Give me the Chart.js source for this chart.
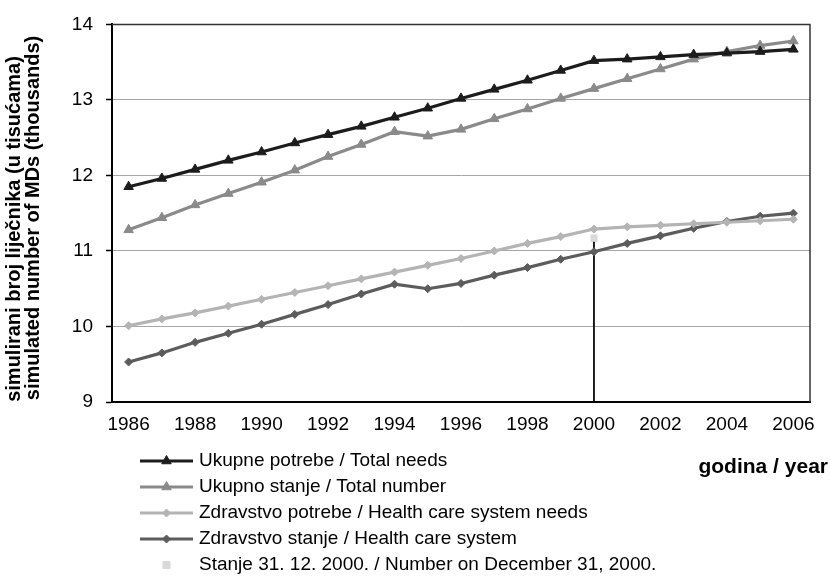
<!DOCTYPE html>
<html>
<head>
<meta charset="utf-8">
<script src="https://cdn.jsdelivr.net/npm/chart.js@4"></script>
<style>
  html, body { margin: 0; padding: 0; background: #fff; }
  #wrap { width: 830px; height: 576px; }
</style>
</head>
<body>
<div id="wrap"><canvas id="grafikon"></canvas></div>
<script>
// godine
const years = ['1986', '1987', '1988', '1989', '1990', '1991', '1992', '1993', '1994', '1995', '1996',
  '1997', '1998', '1999', '2000', '2001', '2002', '2003', '2004', '2005', '2006'];

// simulirani broj lijecnika (tisuce)
const totalNeeds = [11.85, 11.96, 12.08, 12.20, 12.31, 12.43, 12.54, 12.65, 12.77, 12.89, 13.02,
  13.14, 13.26, 13.39, 13.52, 13.54, 13.57, 13.60, 13.62, 13.64, 13.67];
const totalNumber = [11.28, 11.44, 11.61, 11.76, 11.91, 12.07, 12.25, 12.41, 12.58, 12.52, 12.61,
  12.75, 12.88, 13.02, 13.15, 13.28, 13.41, 13.54, 13.64, 13.72, 13.78];
const healthNeeds = [10.01, 10.10, 10.18, 10.27, 10.36, 10.45, 10.54, 10.63, 10.72, 10.81, 10.90,
  11.00, 11.10, 11.19, 11.29, 11.32, 11.34, 11.36, 11.38, 11.40, 11.42];
const healthSystem = [9.53, 9.65, 9.79, 9.91, 10.03, 10.16, 10.29, 10.43, 10.56, 10.50, 10.57,
  10.68, 10.78, 10.89, 10.99, 11.10, 11.20, 11.30, 11.39, 11.46, 11.50];

// stanje 31. 12. 2000.
const stanjeYear = '2000';
const stanjeValue = 11.17;

const yTicks = [9, 10, 11, 12, 13, 14];

const labels = [
  'Ukupne potrebe / Total needs',
  'Ukupno stanje / Total number',
  'Zdravstvo potrebe / Health care system needs',
  'Zdravstvo stanje / Health care system',
  'Stanje 31. 12. 2000. / Number on December 31, 2000.'
];

const FONT = 'Arial, "Liberation Sans", sans-serif';
Chart.defaults.font.family = FONT;
Chart.defaults.color = '#000';

function serija(label, data, color, style, radius) {
  return {
    label: label,
    data: data,
    borderColor: color,
    backgroundColor: color,
    borderWidth: 3.2,
    pointStyle: style,
    pointRadius: radius,
    pointBorderWidth: 1,
    pointHoverRadius: radius,
    tension: 0
  };
}

const stanjeData = years.map(y => y === stanjeYear ? stanjeValue : null);

const datasets = [
  serija(labels[0], totalNeeds, '#1c1c1c', 'triangle', 5.5),
  serija(labels[1], totalNumber, '#8a8a8a', 'triangle', 5.5),
  serija(labels[2], healthNeeds, '#b4b4b4', 'rectRot', 4),
  serija(labels[3], healthSystem, '#5c5c5c', 'rectRot', 4),
  {
    label: labels[4],
    data: stanjeData,
    showLine: false,
    pointStyle: 'rect',
    pointRadius: 5,
    borderColor: '#d9d9d9',
    backgroundColor: '#d9d9d9',
    borderWidth: 0
  },
  {
    label: 'drop',
    data: [{x: stanjeYear, y: stanjeValue}, {x: stanjeYear, y: yTicks[0]}],
    borderColor: '#000',
    borderWidth: 1,
    pointRadius: 0
  }
];

// okvir, legenda i naslovi osi
const dodaci = {
  id: 'dodaci',
  beforeDatasetsDraw(chart) {
    const ctx = chart.ctx;
    const a = chart.chartArea;
    ctx.save();
    ctx.strokeStyle = '#333';
    ctx.lineWidth = 1.5;
    ctx.beginPath();
    ctx.moveTo(a.left, a.top);
    ctx.lineTo(a.right, a.top);
    ctx.lineTo(a.right, a.bottom);
    ctx.stroke();
    ctx.restore();
  },
  afterDraw(chart) {
    const ctx = chart.ctx;
    ctx.save();

    // naslov osi y
    ctx.font = 'bold 20px ' + FONT;
    ctx.fillStyle = '#000';
    ctx.textAlign = 'center';
    ctx.textBaseline = 'middle';
    ctx.save();
    ctx.translate(14, 229);
    ctx.rotate(-Math.PI / 2);
    ctx.fillText('simulirani broj liječnika (u tisućama)', 0, 0);
    ctx.restore();
    ctx.save();
    ctx.translate(33, 218);
    ctx.rotate(-Math.PI / 2);
    ctx.fillText('simulated number of MDs (thousands)', 0, 0);
    ctx.restore();

    // naslov osi x
    ctx.font = 'bold 21px ' + FONT;
    ctx.textAlign = 'right';
    ctx.fillText('godina / year', 828, 467);

    // legenda
    ctx.font = '19px ' + FONT;
    ctx.textAlign = 'left';
    for (let i = 0; i < 5; i++) {
      const ds = chart.data.datasets[i];
      const y = 461 + i * 26;
      if (i < 4) {
        ctx.strokeStyle = ds.borderColor;
        ctx.lineWidth = 3.2;
        ctx.beginPath();
        ctx.moveTo(140, y);
        ctx.lineTo(193, y);
        ctx.stroke();
      }
      ctx.fillStyle = ds.backgroundColor;
      ctx.strokeStyle = ds.borderColor;
      ctx.lineWidth = 1;
      Chart.helpers.drawPoint(ctx, {pointStyle: ds.pointStyle, radius: ds.pointRadius, borderWidth: 1, rotation: 0}, 166.5, y);
      ctx.fillStyle = '#000';
      ctx.fillText(ds.label, 199, y);
    }
    ctx.restore();
  }
};

new Chart(document.getElementById('grafikon'), {
  type: 'line',
  data: {
    labels: years,
    datasets: datasets
  },
  options: {
    responsive: true,
    maintainAspectRatio: false,
    animation: false,
    layout: { padding: { left: 0, right: 20, top: 22, bottom: 0 } },
    plugins: {
      legend: { display: false },
      tooltip: { enabled: false }
    },
    scales: {
      x: {
        offset: true,
        afterFit(scale) { scale.height = 174; },
        grid: { display: false, drawTicks: false },
        border: { color: '#000', width: 2 },
        ticks: {
          autoSkip: false,
          maxRotation: 0,
          padding: 11,
          font: { size: 19 },
          callback(val, idx) { return idx % 2 === 0 ? this.getLabelForValue(val) : ''; }
        }
      },
      y: {
        min: yTicks[0],
        max: yTicks[yTicks.length - 1],
        afterFit(scale) { scale.width = 112; },
        afterBuildTicks(scale) { scale.ticks = yTicks.map(v => ({value: v})); },
        border: { color: '#000', width: 2 },
        grid: {
          color: ctx => (ctx.tick && (ctx.tick.value === 9 || ctx.tick.value === 14)) ? 'rgba(0,0,0,0)' : '#a6a6a6',
          borderDash: [3, 2],
          lineWidth: 1,
          tickLength: 6,
          tickColor: '#000',
          tickBorderDash: [],
          tickWidth: 1.5
        },
        ticks: {
          padding: 13,
          font: { size: 19 }
        }
      }
    }
  },
  plugins: [dodaci]
});
</script>
</body>
</html>
